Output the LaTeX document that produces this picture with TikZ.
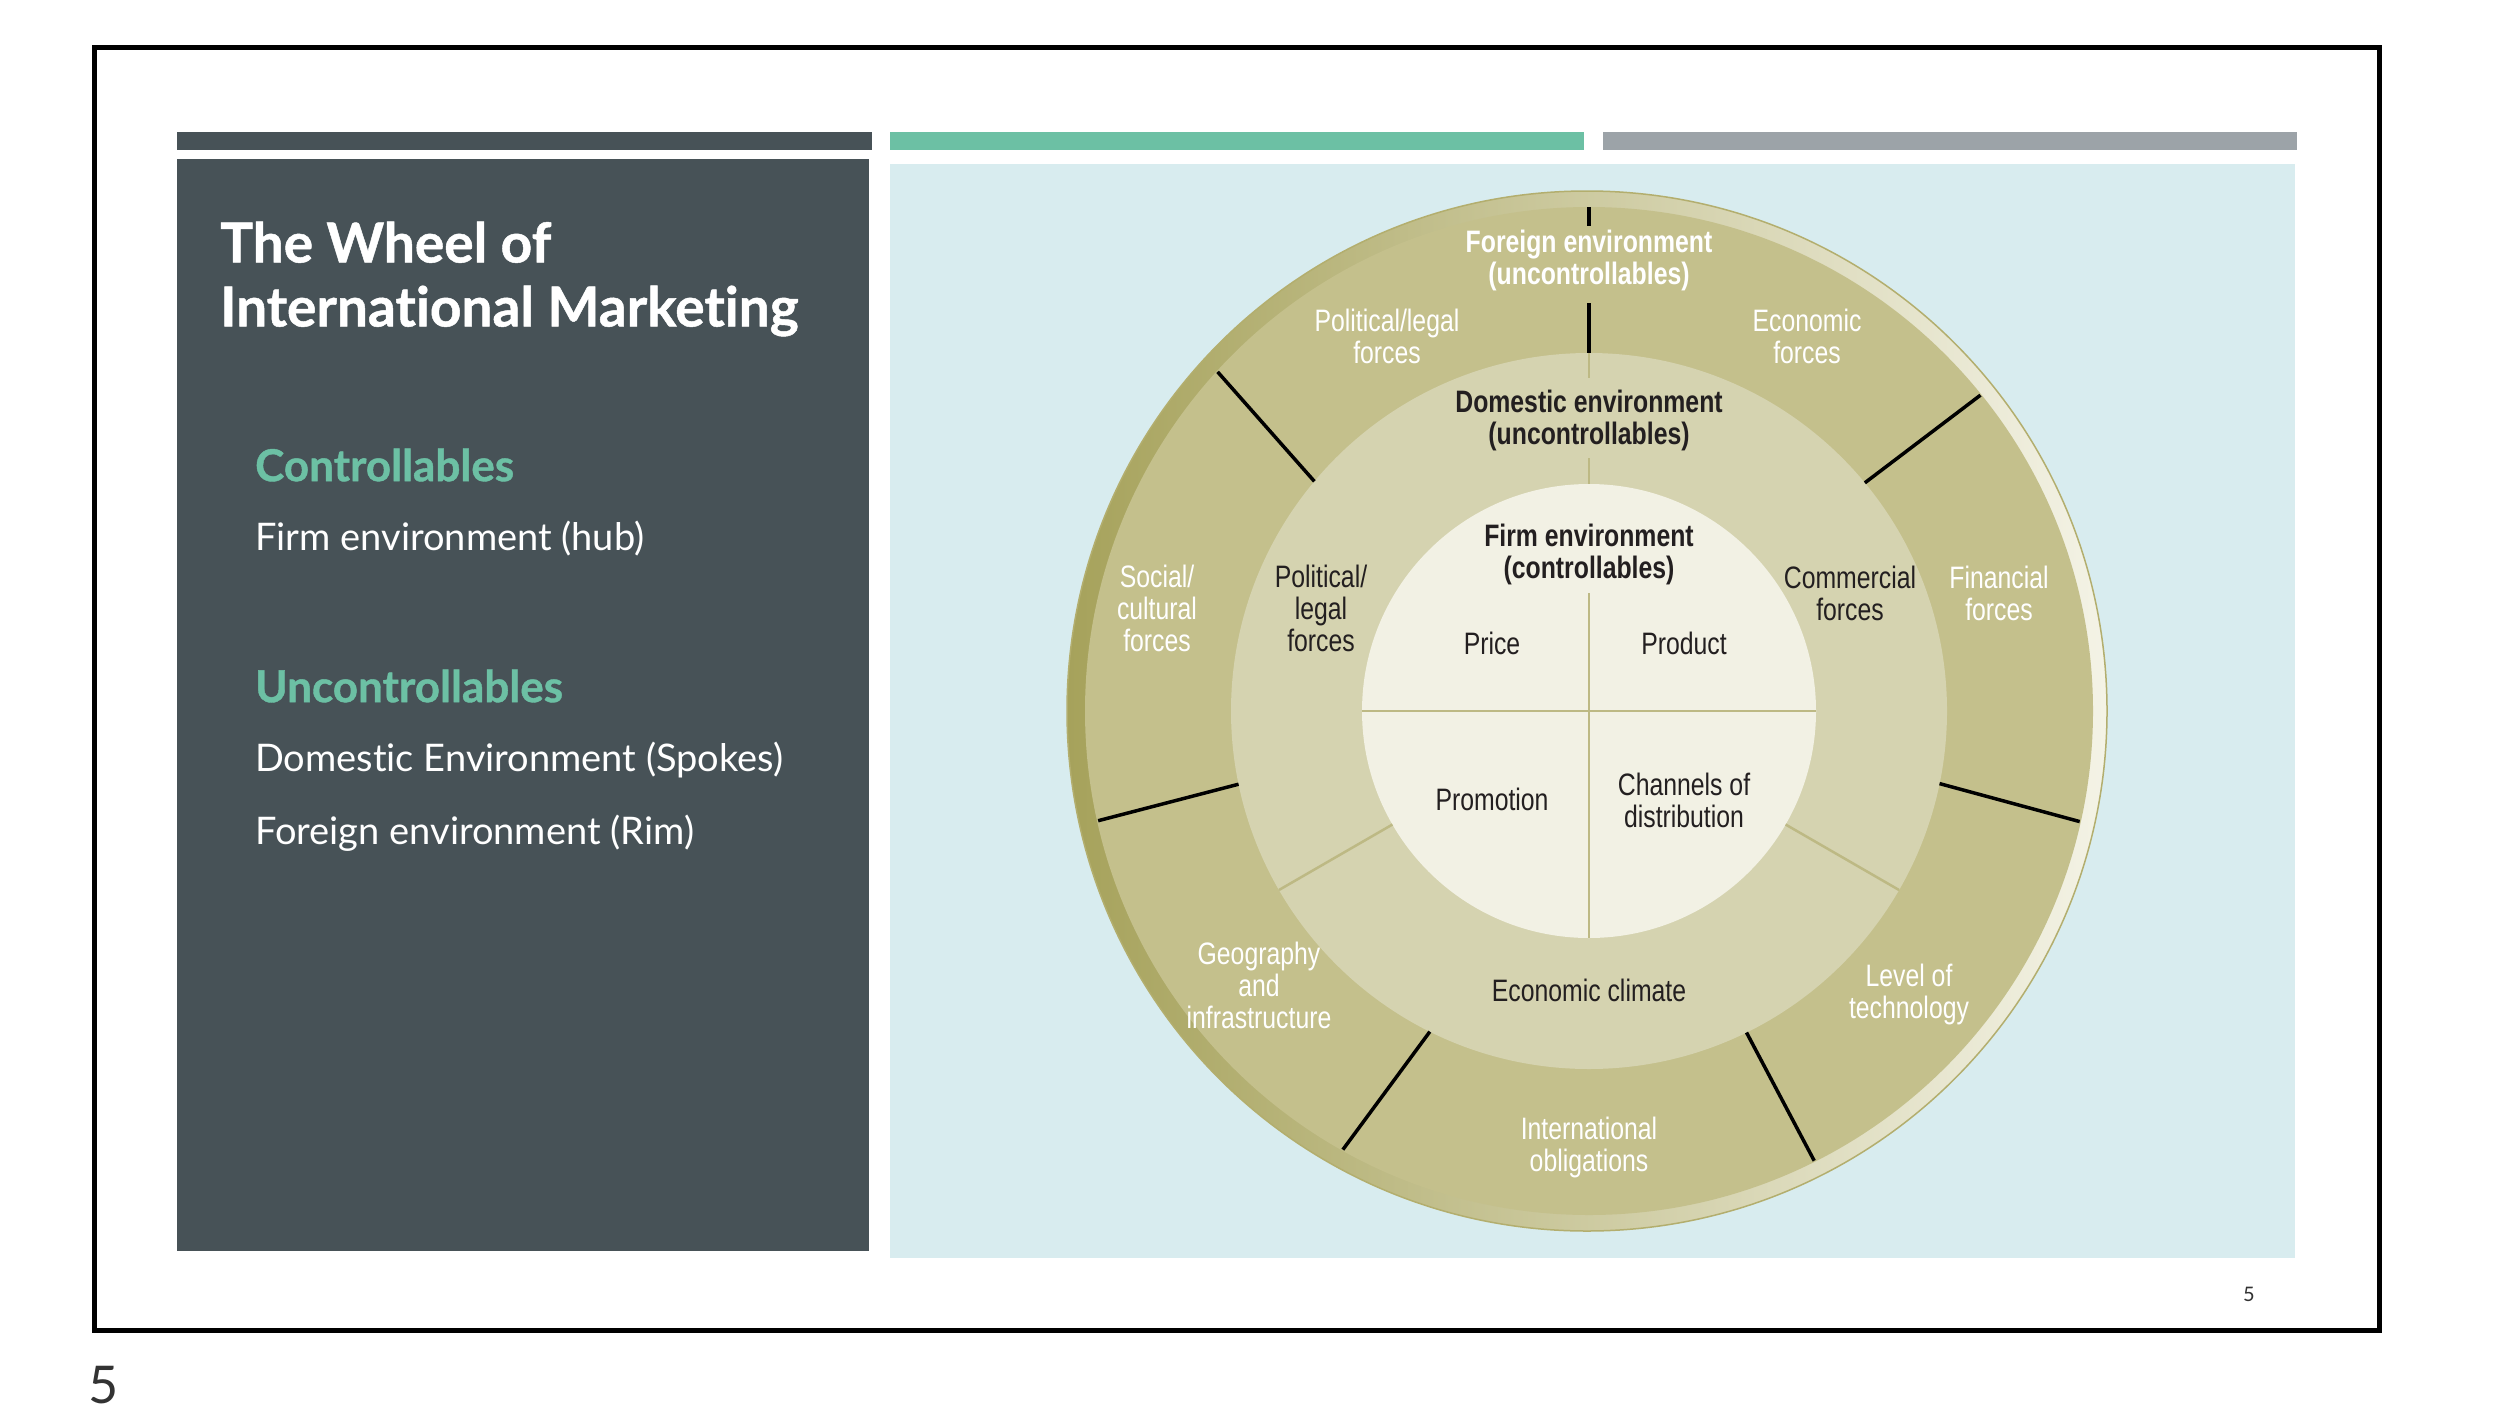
\documentclass[tikz,border=0pt]{standalone}
\usepackage{fontspec}
\setmainfont{Lato}[Ligatures=NoCommon]
\newfontfamily\heavyfont[Ligatures=NoCommon, BoldFeatures={FakeBold=0.9}]{Lato}
\newfontfamily\wheelfont[FakeStretch=0.8]{Liberation Sans}
\usepackage{xcolor}
\usetikzlibrary{positioning,calc}

\definecolor{slate}{HTML}{475257}
\definecolor{barteal}{HTML}{6CC0A4}
\definecolor{bargrey}{HTML}{9CA3A8}
\definecolor{skyback}{HTML}{D8ECEF}
\definecolor{rimolive}{HTML}{C4C08C}
\definecolor{rimdark}{HTML}{A6A25B}
\definecolor{rimlight}{HTML}{F4F3E6}
\definecolor{rimedge}{HTML}{B3AE6E}
\definecolor{domband}{HTML}{D5D3B0}
\definecolor{firmhub}{HTML}{F2F1E4}
\definecolor{hubline}{HTML}{BDB984}
\definecolor{inkdark}{HTML}{231F20}
\definecolor{pagegrey}{HTML}{333333}

\begin{document}
\begin{tikzpicture}[x=1pt, y=-1pt,
    title/.style={font=\heavyfont\bfseries\fontsize{55}{64}\selectfont, text=white, align=left, anchor=west, inner sep=0pt},
    head/.style={font=\heavyfont\bfseries\fontsize{44}{48}\selectfont, text=barteal, anchor=west, inner sep=0pt},
    item/.style={font=\fontsize{38}{44}\selectfont, text=white, anchor=west, inner sep=0pt},
    wlabel/.style={font=\wheelfont\fontsize{31}{32}\selectfont, align=center, inner sep=0pt},
    wbold/.style={font=\wheelfont\bfseries\fontsize{31}{32}\selectfont},
    wwhite/.style={wlabel, text=white},
    wdark/.style={wlabel, text=inkdark},
    spoke/.style={line width=3.5pt, black},
    thin/.style={line width=2.5pt, hubline}]
  \useasboundingbox (0,0) rectangle (2496,1410);
  \fill[white] (0,0) rectangle (2496,1410);
  \draw[line width=5pt] (94,48) rectangle (2379,1330);
  % bars and panels
  \fill[slate]   (177,132) rectangle (872,150);
  \fill[barteal] (890,132) rectangle (1584,150);
  \fill[bargrey] (1603,132) rectangle (2297,150);
  \fill[slate]   (177,159) rectangle (869,1251);
  \fill[skyback] (890,164) rectangle (2295,1258);
  % left panel text
  \node[title] (title) at (220,279) {The Wheel of\\International Marketing};
  \node[head] (ctrl)   at (255,465) {Controllables};
  \node[item] (firm)   at (255,539) {Firm environment (hub)};
  \node[head] (unctrl) at (255,686) {Uncontrollables};
  \node[item] (dom)    at (255,760) {Domestic Environment (Spokes)};
  \node[item] (rim)    at (255,833) {Foreign environment (Rim)};
  % the wheel
  \begin{scope}[shift={(1589,711)}, yscale=-1]
    \shade[left color=rimdark, right color=rimlight] (-2,0) circle (520);
    \draw[rimedge, line width=1.5pt] (-2,0) circle (520);
    \fill[rimolive] (0,0) circle (504);
    \fill[domband]  (0,0) circle (358);
    \fill[firmhub]  (0,0) circle (227);
    % spokes of the rim (outer angle / inner angle)
    \foreach \ao/\ai in {137.6/140.1, 192.6/191.8, 240.7/243.6, 296.6/296.1, 347.3/348.3, 38.9/39.6}
      \draw[spoke] (\ao:503) -- (\ai:358);
    \draw[spoke] (0,504) -- (0,485);
    \draw[spoke] (0,408) -- (0,358);
    % domestic and firm divisions
    \draw[thin] (210:227) -- (210:358);
    \draw[thin] (330:227) -- (330:358);
    \draw[thin] (0,358) -- (0,333);
    \draw[thin] (0,253) -- (0,227);
    \draw[thin] (-227,0) -- (227,0);
    \draw[thin] (0,118) -- (0,-227);
    % labels
    \node[wwhite, wbold] (foreign) at (0,451) {Foreign environment\\(uncontrollables)};
    \node[wwhite] (polout)  at (-202,375) {Political/legal\\forces};
    \node[wwhite] (econ)    at (218,375)  {Economic\\forces};
    \node[wdark, wbold] (domestic) at (0,291) {Domestic environment\\(uncontrollables)};
    \node[wwhite] (social)  at (-432,103) {Social/\\cultural\\forces};
    \node[wdark]  (polin)   at (-268,103) {Political/\\legal\\forces};
    \node[wdark, wbold] (firmenv) at (0,157) {Firm environment\\(controllables)};
    \node[wdark]  (comm)    at (261,118)  {Commercial\\forces};
    \node[wwhite] (fin)     at (410,118)  {Financial\\forces};
    \node[wdark]  (price)   at (-97,68)   {Price};
    \node[wdark]  (product) at (95,68)    {Product};
    \node[wdark]  (promo)   at (-97,-88)  {Promotion};
    \node[wdark]  (chan)    at (95,-89)   {Channels of\\distribution};
    \node[wwhite] (geo)     at (-330,-274) {Geography\\and\\infrastructure};
    \node[wdark]  (climate) at (0,-279)   {Economic climate};
    \node[wwhite] (tech)    at (320,-283) {Level of\\technology};
    \node[wwhite] (intl)    at (0,-436)   {International\\obligations};
  \end{scope}
  % page numbers
  \node[font=\fontsize{20}{24}\selectfont, text=pagegrey] (pnum) at (2249,1294) {5};
  \node[font=\fontsize{52}{60}\selectfont, text=pagegrey] (slidenum) at (104,1385) {5};
\end{tikzpicture}
\end{document}
